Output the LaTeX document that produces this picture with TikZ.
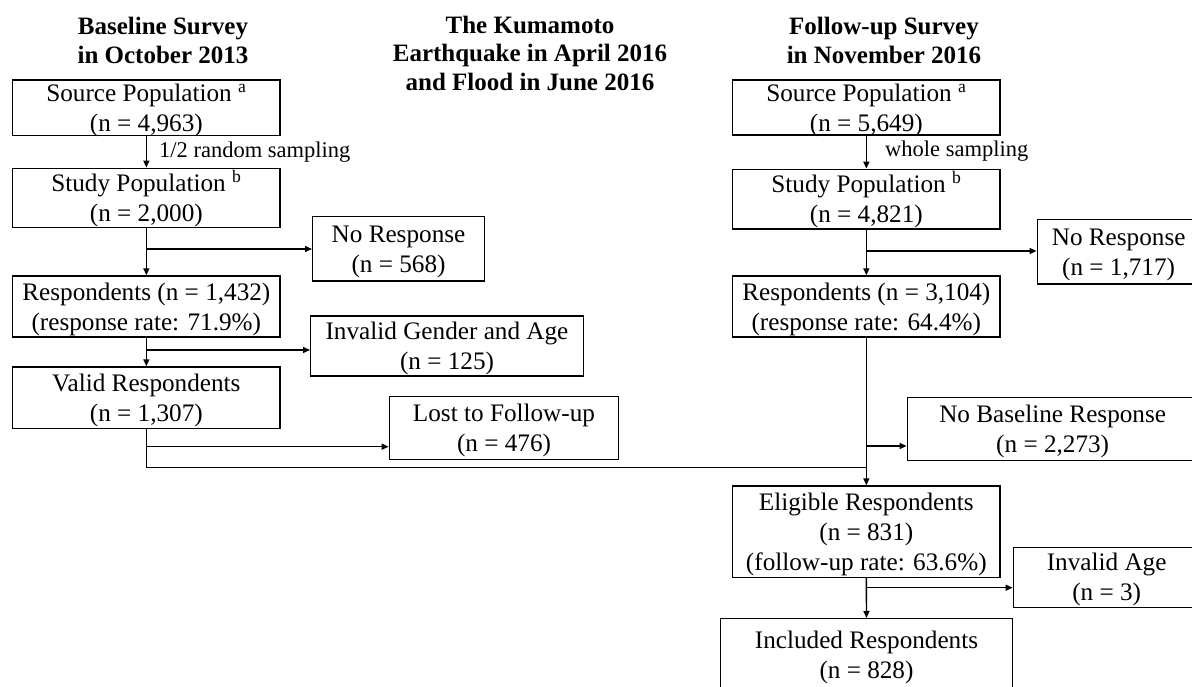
\documentclass[tikz,border=0pt]{standalone}
\usepackage{fontspec}
\setmainfont{Liberation Serif}
\usetikzlibrary{arrows.meta}
\newcommand\btext[1]{\raisebox{-8.8pt}[0pt][0pt]{\begin{tabular}{@{}c@{}}#1\end{tabular}}}
\newcommand\ttext[1]{\begin{tabular}[t]{@{}c@{}}#1\end{tabular}}
\tikzset{
  box/.style={draw, line width=1.4pt, inner sep=0pt, font=\fontsize{25.2}{30}\selectfont},
  lab/.style={inner sep=0pt, font=\fontsize{22.5}{27}\selectfont},
  ttl/.style={inner sep=0pt, font=\fontsize{25}{28.5}\selectfont\bfseries},
  ln/.style={line width=1.4pt},
  arr/.style={line width=1.4pt, -{Triangle[length=7pt,width=6pt]}}
}
\begin{document}
\begin{tikzpicture}[x=1pt,y=-1pt]
\useasboundingbox (0,0) rectangle (1192,687);
\clip (0,0) rectangle (1192,687);
% titles
\node[ttl, anchor=base] (t1) at (163,35) {\ttext{Baseline Survey\\in October 2013}};
\node[ttl, anchor=base] (t2) at (530,33.3) {\ttext{The Kumamoto\\Earthquake in April 2016\\and Flood in June 2016}};
\node[ttl, anchor=base] (t3) at (884,35) {\ttext{Follow-up Survey\\in November 2016}};
% left column
\node[box, minimum width=267.3pt, minimum height=55.7pt] (src1) at (146.35,107.85) {\btext{Source Population \textsuperscript{a}\\(n = 4,963)}};
\node[box, minimum width=267.3pt, minimum height=59.4pt] (stu1) at (146.35,198) {\btext{Study Population \textsuperscript{b}\\(n = 2,000)}};
\node[box, minimum width=267.3pt, minimum height=61pt] (res1) at (146.35,306.5) {\btext{Respondents (n = 1,432)\\(response rate: 71.9\%)}};
\node[box, minimum width=267.3pt, minimum height=61.3pt] (val1) at (146.35,397.6) {\btext{Valid Respondents\\(n = 1,307)}};
\node[box, minimum width=171.6pt, minimum height=64.3pt] (nr1) at (398.5,248.85) {\btext{No Response\\(n = 568)}};
\node[box, minimum width=272.6pt, minimum height=60pt] (inv1) at (447,346) {\btext{Invalid Gender and Age\\(n = 125)}};
\node[box, minimum width=229.4pt, minimum height=62.6pt] (lost) at (504,428) {\btext{Lost to Follow-up\\(n = 476)}};
% right column
\node[box, minimum width=267.3pt, minimum height=55pt] (src2) at (866.35,107.5) {\btext{Source Population \textsuperscript{a}\\(n = 5,649)}};
\node[box, minimum width=267.3pt, minimum height=59.7pt] (stu2) at (866.35,199.15) {\btext{Study Population \textsuperscript{b}\\(n = 4,821)}};
\node[box, minimum width=267.3pt, minimum height=61pt] (res2) at (866.35,306.5) {\btext{Respondents (n = 3,104)\\(response rate: 64.4\%)}};
\node[box, minimum width=267.3pt, minimum height=91.3pt] (eli) at (866.35,531.65) {\btext{Eligible Respondents\\(n = 831)\\(follow-up rate: 63.6\%)}};
\node[box, minimum width=291.6pt, minimum height=73.3pt] (inc) at (866.5,655.35) {\btext{Included Respondents\\(n = 828)}};
\node[box, minimum width=162.7pt, minimum height=64.7pt] (nr2) at (1118.65,251.65) {\btext{No Response\\(n = 1,717)}};
\node[box, minimum width=290.7pt, minimum height=63pt] (nob) at (1052.65,429.2) {\btext{No Baseline Response\\(n = 2,273)}};
\node[box, minimum width=186.7pt, minimum height=60pt] (inva) at (1106.65,577.3) {\btext{Invalid Age\\(n = 3)}};
% labels
\node[lab, anchor=base west] (l1) at (159,158) {1/2 random sampling};
\node[lab, anchor=base west] (l2) at (885,157) {whole sampling};
% branch points
\coordinate (b1) at (146.35,249);
\coordinate (b2) at (146.35,350);
\coordinate (b3) at (146.35,446.7);
\coordinate (b4) at (866.35,251);
\coordinate (b5) at (866.35,446);
\coordinate (b6) at (866.35,587.7);
\coordinate (j1) at (866.35,467.7);
% connectors left
\draw[arr] (src1.south) -- (stu1.north);
\draw[arr] (stu1.south) -- (res1.north);
\draw[arr] (b1) -- (b1 -| nr1.west);
\draw[arr] (res1.south) -- (val1.north);
\draw[arr] (b2) -- (b2 -| inv1.west);
\draw[ln] (val1.south) |- (j1);
\draw[arr] (b3) -- (b3 -| lost.west);
% connectors right
\draw[arr] (src2.south) -- (stu2.north);
\draw[arr] (stu2.south) -- (res2.north);
\draw[arr] (b4) -- (b4 -| nr2.west);
\draw[arr] (res2.south) -- (eli.north);
\draw[arr] (b5) -- (b5 -| nob.west);
\draw[arr] (eli.south) -- (inc.north);
\draw[arr] (b6) -- (b6 -| inva.west);
\end{tikzpicture}
\end{document}
